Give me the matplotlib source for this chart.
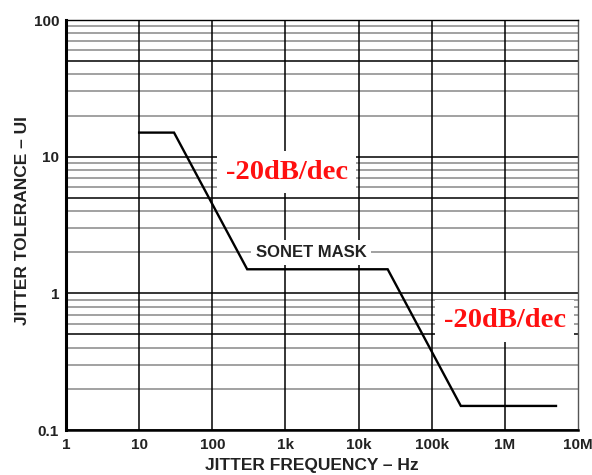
import numpy as np
import matplotlib
matplotlib.use('Agg')
import matplotlib.pyplot as plt
from matplotlib.ticker import FixedLocator, NullFormatter

# SONET jitter tolerance mask (corner points)
freq_hz = [10, 30, 300, 25e3, 250e3, 5e6]
tol_ui = [15, 15, 1.5, 1.5, 0.15, 0.15]

x_ticks = [1, 10, 100, 1e3, 1e4, 1e5, 1e6, 1e7]
x_labels = ['1', '10', '100', '1k', '10k', '100k', '1M', '10M']
y_ticks = [0.1, 1, 10, 100]
y_labels = ['0.1', '1', '10', '100']

sans = 'Liberation Sans'
serif = 'Liberation Serif'

fig = plt.figure(figsize=(5.92, 4.75), dpi=100)
ax = fig.add_axes([66/592, 45/475, 512/592, 410/475])
ax.set_xscale('log')
ax.set_yscale('log')
ax.set_xlim(1, 1e7)
ax.set_ylim(0.1, 100)

# horizontal grid: black at 1 and 5 of each decade, gray for the rest
for dec in [0.1, 1, 10]:
    for m in range(2, 10):
        if m == 5:
            ax.axhline(m*dec, color='black', lw=1.1, zorder=1)
        else:
            ax.axhline(m*dec, color='#9a9a9a', lw=1.3, zorder=1)
    ax.axhline(dec, color='black', lw=1.1, zorder=1)
# vertical grid only at decades
for f in x_ticks[1:-1]:
    ax.axvline(f, color='black', lw=1.1, zorder=1)

ax.plot(freq_hz, tol_ui, color='black', lw=1.7, zorder=4, solid_joinstyle='miter')

ax.xaxis.set_major_locator(FixedLocator(x_ticks))
ax.set_xticklabels(x_labels)
ax.xaxis.set_minor_formatter(NullFormatter())
ax.yaxis.set_major_locator(FixedLocator(y_ticks))
ax.set_yticklabels(y_labels)
ax.yaxis.set_minor_formatter(NullFormatter())
ax.tick_params(which='both', length=0)
ax.tick_params(axis='x', pad=6)
ax.tick_params(axis='y', pad=5)
for lab in ax.get_xticklabels() + ax.get_yticklabels():
    lab.set_fontfamily(sans)
    lab.set_fontweight('bold')
    lab.set_fontsize(11)
    lab.set_color('#222222')

ax.spines['left'].set_linewidth(2.2)
ax.spines['bottom'].set_linewidth(1.8)
ax.spines['top'].set_linewidth(1.0)
ax.spines['right'].set_linewidth(1.0)
ax.spines['right'].set_color('#555555')

ax.set_xlabel('JITTER FREQUENCY – Hz', fontfamily=sans, fontweight='bold',
              fontsize=12.5, color='#222222')
ax.xaxis.set_label_coords(0.48, -0.069)
ax.set_ylabel('JITTER TOLERANCE – UI', fontfamily=sans, fontweight='bold',
              fontsize=12.5, color='#222222')
ax.yaxis.set_label_coords(-0.07, 0.51)

# slope annotations on white patches
ax.text(1.04e3, 7.7, '-20dB/dec', color='#ff1010', fontfamily=serif,
        fontweight='bold', fontsize=20.5, ha='center', va='center', zorder=3,
        bbox=dict(boxstyle='square,pad=0.3', fc='white', ec='none'))
ax.text(1e6, 0.63, '-20dB/dec', color='#ff1010', fontfamily=serif,
        fontweight='bold', fontsize=20.5, ha='center', va='center', zorder=3,
        bbox=dict(boxstyle='square,pad=0.3', fc='white', ec='none'))
ax.text(2.24e3, 2.0, 'SONET MASK', color='#222222', fontfamily=sans,
        fontweight='bold', fontsize=12, ha='center', va='center', zorder=3,
        bbox=dict(boxstyle='square,pad=0.3', fc='white', ec='none'))

fig.savefig('out.png', dpi=100)
